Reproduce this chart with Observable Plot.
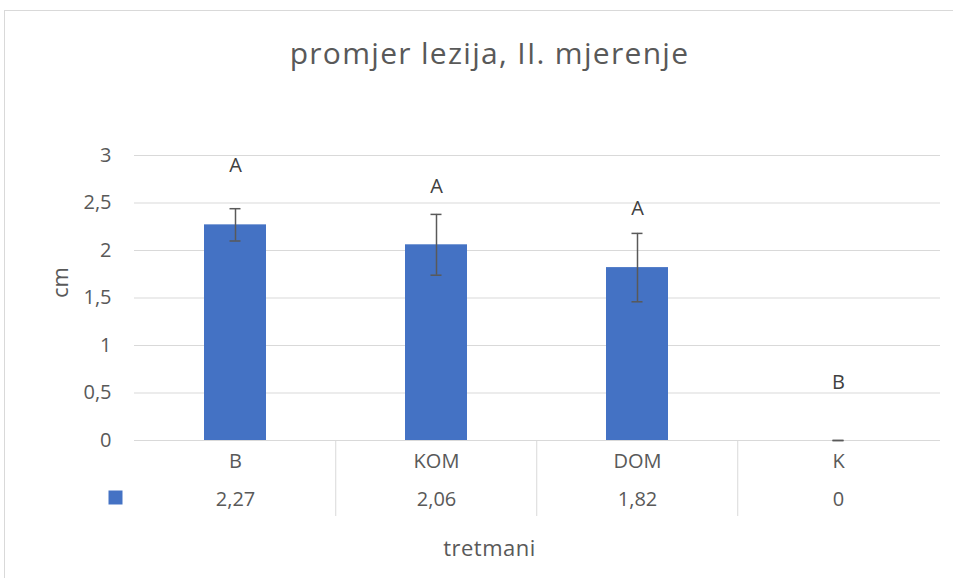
<!DOCTYPE html>
<html>
<head>
<meta charset="utf-8">
<script src="https://cdn.jsdelivr.net/npm/d3@7"></script>
<script src="https://cdn.jsdelivr.net/npm/@observablehq/plot@0.6"></script>
<style>
  html, body { margin: 0; padding: 0; background: #fff; }
  #wrap { position: relative; width: 953px; height: 578px; overflow: hidden; }
  #border { position: absolute; left: 4px; top: 10px; width: 975px; height: 600px; border: 1px solid #d9d9d9; box-sizing: border-box; pointer-events: none; }
  #chart { position: absolute; left: 0; top: 0; }
  svg { font-family: "Open Sans", sans-serif; }
</style>
</head>
<body>
<div id="wrap"><div id="border"></div><div id="chart"></div></div>
<script>
const categories = ["B", "KOM", "DOM", "K"];
const means = [2.27, 2.06, 1.82, 0];
const errors = [0.17, 0.32, 0.36, 0];
const letters = ["A", "A", "A", "B"];
const letterY = [2.89, 2.67, 2.44, 0.61];
const yTicks = [0, 0.5, 1, 1.5, 2, 2.5, 3];
const valueLabels = ["2,27", "2,06", "1,82", "0"];
const titleText = "promjer lezija, II. mjerenje";
const yLabel = "cm";
const xLabel = "tretmani";

const data = categories.map((c, i) => ({
  cat: c, mean: means[i], err: errors[i],
  lo: means[i] - errors[i], hi: means[i] + errors[i],
  letter: letters[i], ly: letterY[i], vlabel: valueLabels[i]
}));

const fmt = d => String(d).replace(".", ",");
const txt = "#595959";
const step = (940 - 134) / categories.length;

const chart = Plot.plot({
  width: 953,
  height: 578,
  marginTop: 155,
  marginBottom: 138,
  marginLeft: 134,
  marginRight: 13,
  style: { fontFamily: "Open Sans, sans-serif", color: txt, background: "transparent" },
  x: { domain: categories, paddingInner: 0.69, paddingOuter: 0.345, axis: null },
  y: { domain: [0, 3], axis: null },
  marks: [
    Plot.gridY(yTicks, { stroke: "#d9d9d9", strokeOpacity: 1, strokeWidth: 1 }),
    Plot.axisY(yTicks, { tickSize: 0, tickPadding: 23, tickFormat: fmt, fontSize: 20, fill: txt, label: null }),
    Plot.barY(data, { x: "cat", y: "mean", fill: "#4472C4" }),
    Plot.ruleX(data, { x: "cat", y1: "lo", y2: "hi", stroke: "#595959", strokeWidth: 1.5 }),
    Plot.tickY(data, { x: "cat", y: "hi", stroke: "#595959", strokeWidth: 1.5, insetLeft: 25.5, insetRight: 25.5 }),
    Plot.tickY(data, { x: "cat", y: "lo", stroke: "#595959", strokeWidth: 1.5, insetLeft: 25.5, insetRight: 25.5 }),
    Plot.text(data, { x: "cat", y: "ly", text: "letter", fontSize: 20, fill: "#404040" }),
    // data table rows
    Plot.text(data, { x: "cat", y: () => 0, text: "cat", fontSize: 20, fill: txt, dy: 20.6 }),
    Plot.text(data, { x: "cat", y: () => 0, text: "vlabel", fontSize: 20, fill: txt, dy: 58.6 }),
    Plot.ruleX(data.slice(1), { x: "cat", y1: () => 0, y2: () => -76 / 95, dx: -step / 2, stroke: "#d9d9d9", strokeWidth: 1 }),
    Plot.dot([valueLabels[0]], { frameAnchor: "bottom-left", symbol: "square", r: 7.9, fill: "#4472C4", stroke: "none", dx: -19, dy: 57 }),
    // titles
    Plot.text([titleText], { frameAnchor: "top", lineAnchor: "middle", text: d => d, fontSize: 30, fill: txt, dx: -48, dy: -101 }),
    Plot.text([yLabel], { frameAnchor: "left", text: d => d, rotate: -90, fontSize: 22, fill: txt, dx: -74 }),
    Plot.text([xLabel], { frameAnchor: "bottom", lineAnchor: "middle", text: d => d, fontSize: 22, fill: txt, dx: -48, dy: 108 })
  ]
});
d3.select(chart).selectAll("text").each(function () {
  const t = this.textContent;
  if (t === titleText) this.style.letterSpacing = "1.3px";
  else if (t === xLabel) this.style.letterSpacing = "0.5px";
});
document.getElementById("chart").appendChild(chart);
</script>
</body>
</html>
